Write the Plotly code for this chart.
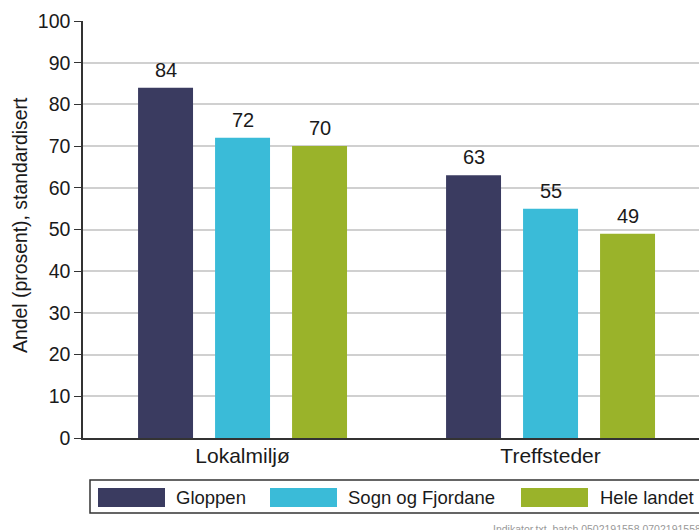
import plotly.graph_objects as go

categories = ["Lokalmiljø", "Treffsteder"]
series_names = ["Gloppen", "Sogn og Fjordane", "Hele landet"]
gloppen = [84, 63]
sogn_og_fjordane = [72, 55]
hele_landet = [70, 49]
series_values = [gloppen, sogn_og_fjordane, hele_landet]
colors = ["#3a3b60", "#3abbd8", "#9ab32a"]
y_ticks = [0, 10, 20, 30, 40, 50, 60, 70, 80, 90, 100]
y_title = "Andel (prosent), standardisert"
footer = "Indikator.txt, batch 0502191558 0702191558 01"

FONT = "Arial, Liberation Sans, sans-serif"
W, H = 699, 530
L, R, T, B = 83, 0, 21, 92
PW, PH = W - L - R, H - T - B
BAR_STEP_PX = 77  # distance between bar centres inside a group


def px_x(p):
    return (p - L) / PW


def px_y(p):
    return (H - B - p) / PH


fig = go.Figure()
annotations = []
n = len(series_names)
for i, (name, vals, col) in enumerate(zip(series_names, series_values, colors)):
    fig.add_trace(go.Bar(
        x=categories, y=vals, name=name,
        marker=dict(color=col, line=dict(width=0)),
        showlegend=False, hoverinfo="x+y+name",
    ))
    for cat, v in zip(categories, vals):
        annotations.append(dict(
            x=cat, y=v, xref="x", yref="y", text=str(v), showarrow=False,
            xanchor="center", yanchor="middle",
            xshift=(i - (n - 1) / 2) * BAR_STEP_PX, yshift=18,
            font=dict(family=FONT, size=20, color="#1a1a1a"),
        ))

shapes = []
# legend box
shapes.append(dict(type="rect", xref="paper", yref="paper",
                   x0=px_x(90), x1=px_x(720), y0=px_y(513), y1=px_y(480),
                   line=dict(color="#333333", width=1.5), fillcolor="rgba(0,0,0,0)"))
sw_x = [98, 270, 521]
tx_x = [176, 348, 600]
for name, col, sx, tx in zip(series_names, colors, sw_x, tx_x):
    shapes.append(dict(type="rect", xref="paper", yref="paper",
                       x0=px_x(sx), x1=px_x(sx + 67), y0=px_y(507), y1=px_y(488),
                       line=dict(width=0), fillcolor=col))
    annotations.append(dict(xref="paper", yref="paper", x=px_x(tx - 2), y=px_y(497.5),
                            text=name, showarrow=False, xanchor="left", yanchor="middle",
                            font=dict(family=FONT, size=18.5, color="#1a1a1a")))

annotations.append(dict(xref="paper", yref="paper", x=px_x(491), y=px_y(529),
                        text=footer, showarrow=False, xanchor="left", yanchor="middle",
                        font=dict(family=FONT, size=10.5, color="#999999")))

annotations.append(dict(xref="paper", yref="paper", x=px_x(20), y=px_y(225),
                        text=y_title, showarrow=False, textangle=-90,
                        xanchor="center", yanchor="middle",
                        font=dict(family=FONT, size=19.4, color="#1a1a1a")))

fig.update_layout(
    width=W, height=H,
    margin=dict(l=L, r=R, t=T, b=B, pad=0),
    paper_bgcolor="white", plot_bgcolor="white",
    barmode="group", bargap=0.25, bargroupgap=0.286,
    font=dict(family=FONT, color="#1a1a1a"),
    shapes=shapes, annotations=annotations,
    xaxis=dict(
        type="category", range=[-0.518, 1.482], automargin=False,
        showline=True, linecolor="#333333", linewidth=1.5,
        ticks="", showgrid=False, ticklabelstandoff=-2,
        tickfont=dict(family=FONT, size=21, color="#1a1a1a"),
    ),
    yaxis=dict(
        range=[0, 100], tickvals=y_ticks, automargin=False,
        showline=True, linecolor="#333333", linewidth=1.5,
        ticks="outside", ticklen=7, tickcolor="#333333", tickwidth=1.2,
        showgrid=True, gridcolor="#d0d0d0", gridwidth=1.5,
        zeroline=False,
        tickfont=dict(family=FONT, size=19.5, color="#1a1a1a"),
    ),
)

fig.write_html("out.html", config={"displayModeBar": False},
               post_script="document.body.style.margin='0px';document.body.style.overflow='hidden';")
